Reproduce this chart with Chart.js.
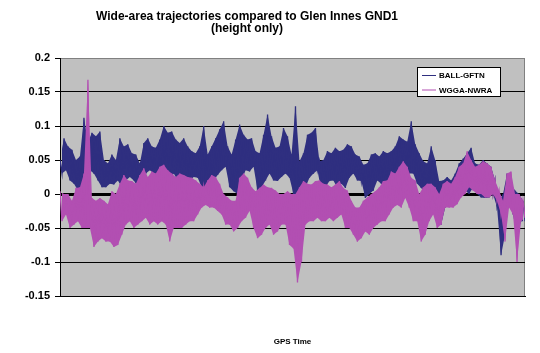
<!DOCTYPE html>
<html>
<head>
<meta charset="utf-8">
<script src="https://cdn.jsdelivr.net/npm/chart.js@4"></script>
<style>
  body { margin: 0; background: #fff; }
  canvas { display: block; }
</style>
</head>
<body>
<canvas id="chart" width="540" height="353"></canvas>
<script>
// Upper / lower envelope of each trace
const ballHigh = [
    .05, .082, .07, .065, .05, .055, .112, .077, .09, .085,
    .092, .05, .045, .058, .05, .082, .07, .073, .06, .058,
    .045, .075, .082, .07, .068, .08, .1, .09, .092, .08,
    .075, .082, .07, .063, .06, .07, .1, .058, .07, .082,
    .095, .107, .07, .058, .08, .102, .087, .08, .082, .063,
    .06, .087, .117, .085, .068, .07, .097, .085, .058, .129,
    .048, .06, .087, .09, .097, .048, .05, .063, .06, .068,
    .063, .065, .073, .07, .058, .055, .043, .045, .058, .06,
    .055, .063, .06, .063, .07, .085, .08, .077, .107, .073,
    .06, .048, .045, .07, .05, .019, .02, .025, .02, .03,
    .045, .052, .06, .068, .045, .043, .05, .045, .04, .02,
    -.01, 0, .03, .015, .005, 0, -.01
];
const ballLow = [
    .03, .035, .02, .015, .005, .01, .03, .035, .03, .02,
    .01, .01, .015, .014, .02, .01, .02, .025, .02, .01,
    .004, .03, .035, .03, .005, .02, .025, .02, .03, .02,
    .019, .015, .02, .025, .024, .01, .004, 0, .02, .028,
    .035, .04, .01, .004, 0, .02, .035, .033, .04, .005,
    .01, .02, .03, .02, .019, .025, .03, .024, 0, -.07,
    0, .01, .024, .03, .035, .004, .01, .019, .02, .009,
    .015, .009, .024, .03, .02, .019, -.006, 0, .005, .02,
    .015, .01, .009, .02, .024, .038, .035, .03, .03, .015,
    .009, 0, -.005, .01, -.01, -.045, -.02, -.015, -.01, -.01,
    0, .005, 0, .01, 0, -.005, -.006, -.005, 0, -.02,
    -.09, -.06, -.01, -.03, -.06, -.04, -.04
];
const wggaHigh = [
    .004, 0, 0, -.01, .009, .01, .03, .168, -.006, -.01,
    -.006, -.01, -.015, .004, 0, .015, .028, .02, .019, .015,
    .028, .038, .025, .033, .03, .04, .043, .035, .03, .025,
    .03, .028, .025, .024, .02, .015, .01, .02, .028, .025,
    .015, 0, -.005, -.01, -.01, .024, .03, .024, .01, .004,
    .009, .014, .01, .009, .005, 0, 0, .004, 0, 0,
    .01, .019, .015, .014, .019, .02, .015, .014, .01, .014,
    .019, .009, .005, -.01, -.02, -.02, -.01, -.005, 0, .004,
    .01, .019, .02, .033, .03, .04, .048, .04, .024, .02,
    0, .01, .015, .015, .01, 0, .015, .019, .015, .025,
    .04, .045, .063, .05, .04, .043, .048, .045, .04, .02,
    .005, -.01, .03, .033, 0, 0, -.01
];
const wggaLow = [
    -.04, -.03, -.05, -.045, -.04, -.05, -.05, -.05, -.078, -.07,
    -.065, -.07, -.07, -.078, -.075, -.06, -.045, -.04, -.05, -.045,
    -.04, -.035, -.045, -.04, -.045, -.04, -.045, -.07, -.05, -.05,
    -.05, -.045, -.04, -.04, -.03, -.02, -.016, -.02, -.02, -.025,
    -.03, -.045, -.045, -.055, -.05, -.04, -.035, -.025, -.05, -.065,
    -.06, -.05, -.045, -.06, -.055, -.045, -.045, -.075, -.08, -.13,
    -.1, -.045, -.04, -.04, -.035, -.04, -.04, -.035, -.04, -.035,
    -.03, -.05, -.05, -.06, -.07, -.065, -.055, -.06, -.05, -.045,
    -.04, -.04, -.03, -.02, -.016, -.02, -.006, -.02, -.04, -.04,
    -.07, -.06, -.04, -.03, -.05, -.045, -.02, -.02, -.02, -.015,
    -.005, 0, .01, .005, 0, 0, -.005, -.005, 0, -.01,
    -.03, -.07, -.02, -.03, -.1, -.04, -.035
];
const seriesNames = ['BALL-GFTN', 'WGGA-NWRA'];
const yTickLabels = ['-0.15', '-0.1', '-0.05', '0', '0.05', '0.1', '0.15', '0.2'];
const titleLines = ['Wide-area trajectories compared to Glen Innes GND1', '(height only)'];
const xTitle = 'GPS Time';

const FONT = '"Liberation Sans", Arial, sans-serif';
const NAVY = '#2f2f80';
const MAGENTA = '#b24fb2';

// each column: high sample then low sample, one step apart on x
const highPts = arr => arr.map((v, i) => ({ x: i * 2, y: v }));
const lowPts = arr => arr.map((v, i) => ({ x: i * 2 + 1, y: v }));
function zigzag(high, low) {
    const out = [];
    high.forEach((h, i) => { out.push({ x: i * 2, y: h }, { x: i * 2 + 1, y: low[i] }); });
    return out;
}
const lastX = ballHigh.length * 2 - 1;

function band(high, low, color, order) {
    return [
        { data: highPts(high), borderWidth: 0, pointRadius: 0, tension: 0, fill: false, order: order, band: true },
        { data: lowPts(low), borderWidth: 0, pointRadius: 0, tension: 0, fill: '-1', backgroundColor: color, order: order, band: true }
    ];
}

const plotFrame = {
    id: 'plotFrame',
    beforeDraw(chart) {
        const { ctx, chartArea: a } = chart;
        ctx.save();
        ctx.fillStyle = '#c0c0c0';
        ctx.fillRect(a.left, a.top, a.right - a.left, a.bottom - a.top);
        ctx.strokeStyle = '#808080';
        ctx.lineWidth = 1;
        ctx.strokeRect(a.left + 0.5, a.top + 0.5, a.right - a.left - 1, a.bottom - a.top);
        ctx.restore();
    },
    afterDraw(chart) {
        const { ctx } = chart;
        ctx.save();
        // title
        ctx.fillStyle = '#000';
        ctx.font = 'bold 12px ' + FONT;
        ctx.textAlign = 'center';
        ctx.textBaseline = 'alphabetic';
        ctx.fillText(titleLines[0], 247, 20);
        ctx.fillText(titleLines[1], 247, 32);

        // legend box inside the plot
        const bx = 417, by = 67, bw = 83, bh = 29;
        ctx.fillStyle = '#fff';
        ctx.fillRect(bx, by, bw, bh);
        ctx.strokeStyle = '#000';
        ctx.lineWidth = 1;
        ctx.strokeRect(bx + 0.5, by + 0.5, bw, bh);
        ctx.font = 'bold 8px ' + FONT;
        ctx.textAlign = 'left';
        ctx.textBaseline = 'middle';
        chart.data.datasets.filter(ds => !ds.band).forEach((ds, i) => {
            const y = 75.5 + i * 14.5;
            ctx.strokeStyle = ds.borderColor;
            ctx.lineWidth = 1;
            ctx.beginPath();
            ctx.moveTo(422, y);
            ctx.lineTo(436, y);
            ctx.stroke();
            ctx.fillStyle = '#000';
            ctx.fillText(ds.label, 439, y + 0.5);
        });
        ctx.restore();
    }
};

new Chart(document.getElementById('chart'), {
    type: 'line',
    data: {
        datasets: [
            { label: seriesNames[0], data: zigzag(ballHigh, ballLow), borderColor: NAVY, borderWidth: 1.3, pointRadius: 0, tension: 0, order: 2 },
            { label: seriesNames[1], data: zigzag(wggaHigh, wggaLow), borderColor: MAGENTA, borderWidth: 1.3, pointRadius: 0, tension: 0, order: 0 },
            ...band(ballHigh, ballLow, NAVY, 3),
            ...band(wggaHigh, wggaLow, MAGENTA, 1)
        ]
    },
    options: {
        responsive: false,
        animation: false,
        layout: { padding: { top: 58, right: 15, left: 0, bottom: 0 } },
        plugins: {
            legend: { display: false },
            title: { display: false },
            tooltip: { enabled: false }
        },
        scales: {
            x: {
                type: 'linear',
                min: 0,
                max: lastX,
                ticks: { display: false },
                grid: { display: false },
                border: { display: true, color: '#000', width: 1 },
                title: {
                    display: true,
                    text: xTitle,
                    color: '#000',
                    font: { family: FONT, size: 8, weight: 'bold' },
                    padding: { top: 0, bottom: 6 }
                },
                afterFit(scale) { scale.height = 57; }
            },
            y: {
                min: -0.15,
                max: 0.2,
                ticks: {
                    stepSize: 0.05,
                    padding: 5,
                    color: '#000',
                    font: { family: FONT, size: 11, weight: 'bold' },
                    callback: (value, index) => yTickLabels[index]
                },
                grid: {
                    color: ctx => (ctx.tick && Math.abs(ctx.tick.value - 0.2) < 1e-9) ? '#808080' : '#000',
                    lineWidth: ctx => (ctx.tick && Math.abs(ctx.tick.value) < 1e-9) ? 3 : 1,
                    tickColor: '#000',
                    tickWidth: 1,
                    tickLength: 5
                },
                border: { display: true, color: '#000', width: 1 },
                afterFit(scale) { scale.width = 60; }
            }
        }
    },
    plugins: [plotFrame]
});
</script>
</body>
</html>
